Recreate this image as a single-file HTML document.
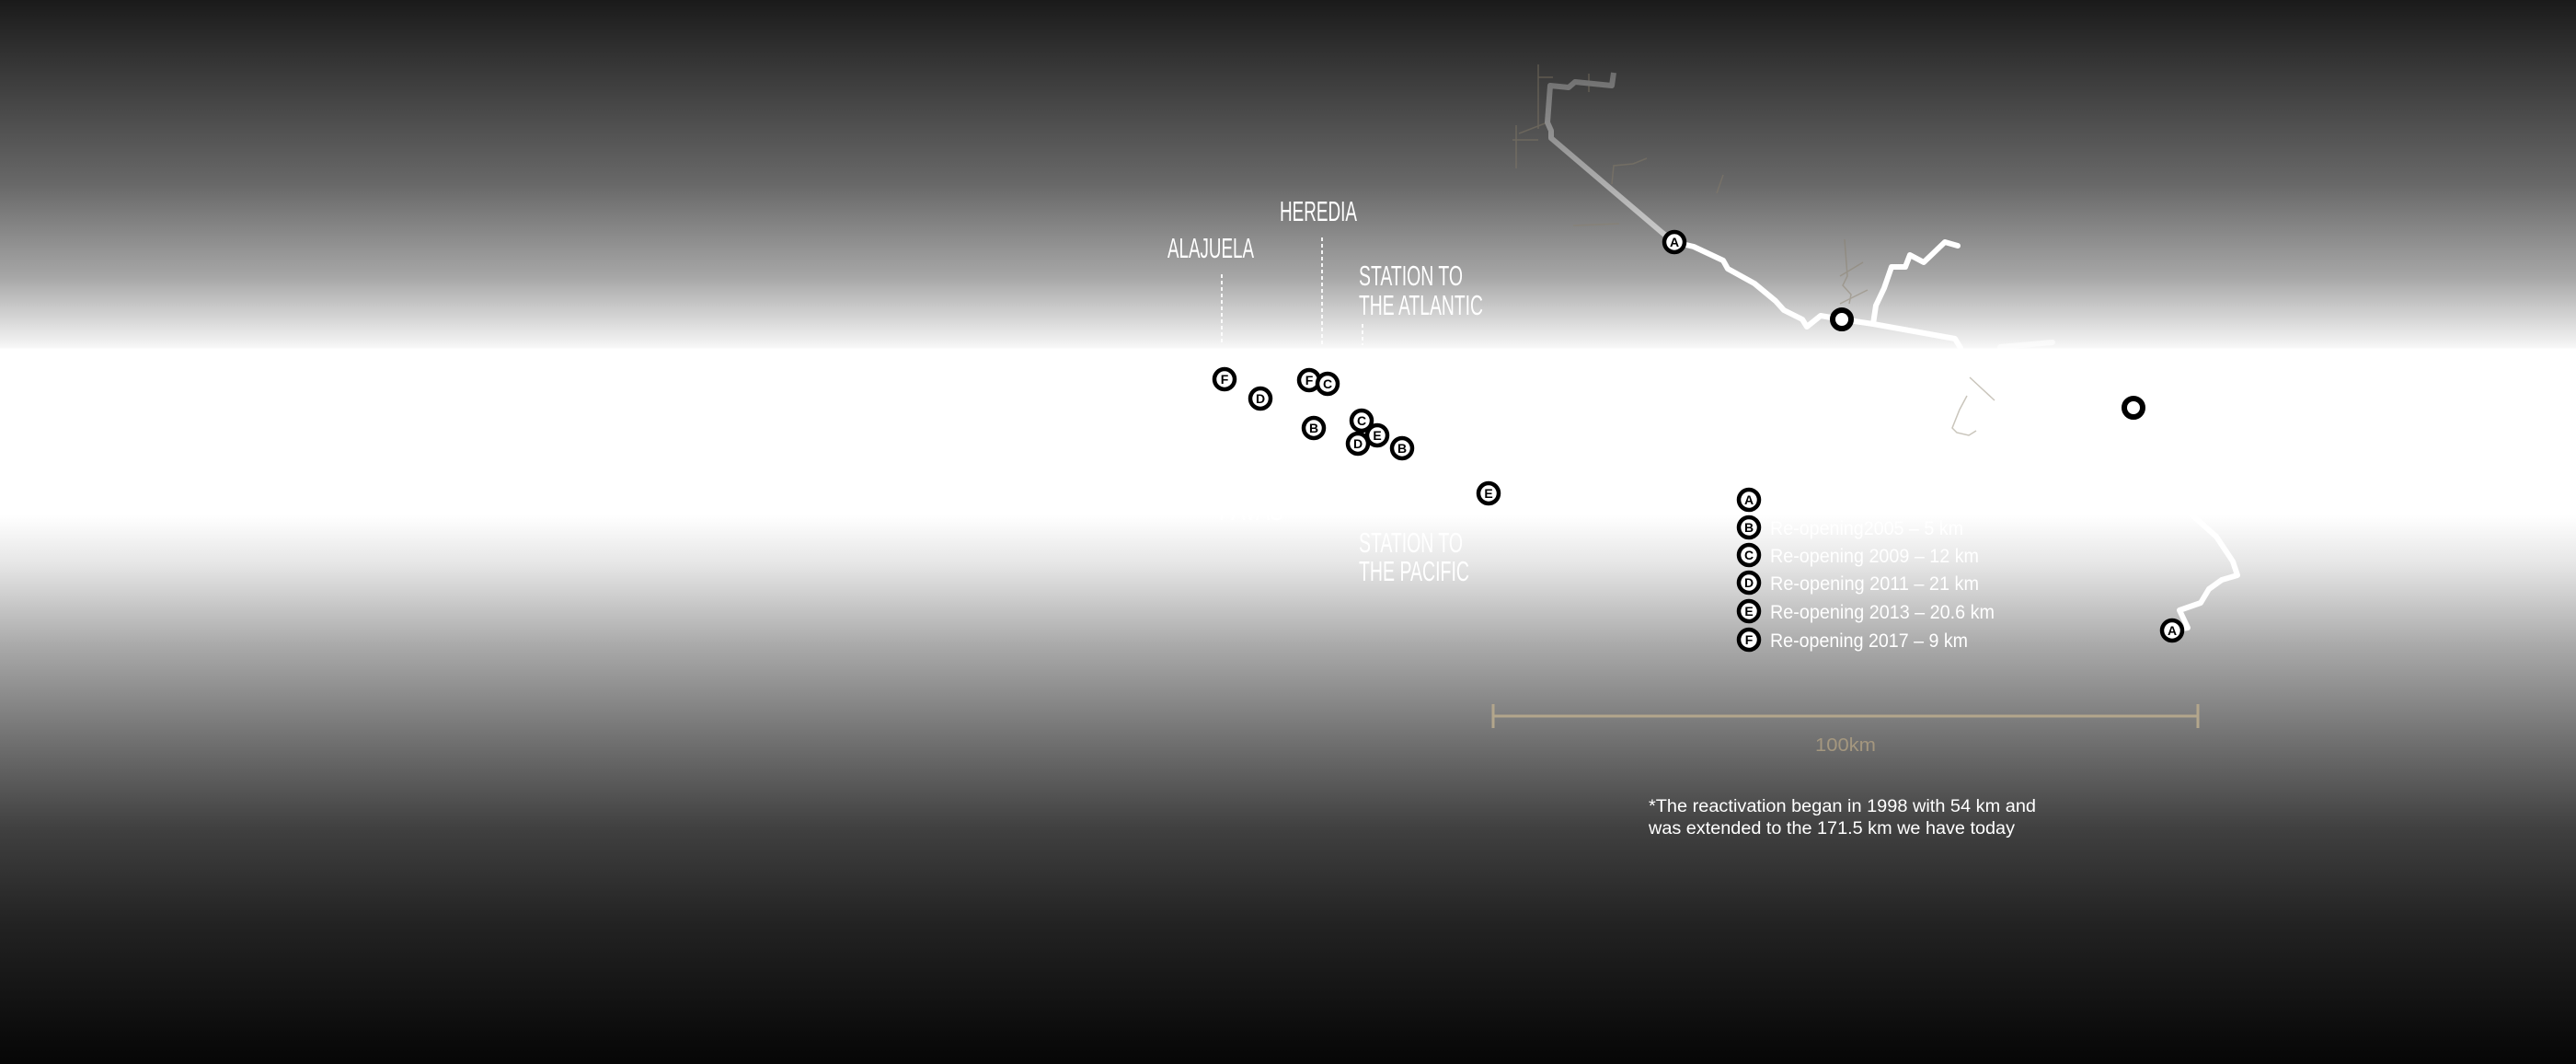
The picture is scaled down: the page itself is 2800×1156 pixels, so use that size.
<!DOCTYPE html>
<html><head><meta charset="utf-8"><style>
html,body{margin:0;padding:0;width:2800px;height:1156px;overflow:hidden;background:#000}
svg{display:block}
</style></head><body>
<svg width="2800" height="1156" viewBox="0 0 2800 1156" xmlns="http://www.w3.org/2000/svg">
<defs>
<linearGradient id="bg" x1="0" y1="0" x2="0" y2="1156" gradientUnits="userSpaceOnUse">
<stop offset="0" stop-color="#1a1a1a"/>
<stop offset="0.043" stop-color="#2e2e2e"/>
<stop offset="0.173" stop-color="#686868"/>
<stop offset="0.26" stop-color="#a6a6a6"/>
<stop offset="0.303" stop-color="#dadada"/>
<stop offset="0.326" stop-color="#f6f6f6"/>
<stop offset="0.328" stop-color="#ffffff"/>
<stop offset="0.484" stop-color="#ffffff"/>
<stop offset="0.53" stop-color="#e6e6e6"/>
<stop offset="0.606" stop-color="#aaaaaa"/>
<stop offset="0.692" stop-color="#737373"/>
<stop offset="0.779" stop-color="#404040"/>
<stop offset="0.87" stop-color="#222222"/>
<stop offset="1" stop-color="#060606"/>
</linearGradient>
<linearGradient id="rt" x1="0" y1="80" x2="0" y2="265" gradientUnits="userSpaceOnUse">
<stop offset="0" stop-color="#6e6e6e"/>
<stop offset="1" stop-color="#cfcfcf"/>
</linearGradient>
</defs>
<rect width="2800" height="1156" fill="url(#bg)"/>

<g stroke="#8a7f6a" stroke-width="1.5" fill="none" opacity="0.45">
<path d="M1672 70 L1672 140"/><path d="M1672 84 L1688 84"/>
<path d="M1727 80 L1727 100"/>
<path d="M1648 136 L1648 183"/><path d="M1644 152 L1672 152"/><path d="M1651 145 L1682 133"/>
<path d="M1752 200 L1754 180 L1775 178 L1790 172"/>
<path d="M1710 245 L1760 243"/>
<path d="M1866 210 L1873 190"/>
<path d="M2005 260 L2008 300 L2003 310 L2012 320 L2010 330"/>
<path d="M2000 300 L2025 285"/><path d="M2000 330 L2030 315"/>
<path d="M2141 410 L2168 435"/><path d="M2138 430 L2130 445 L2122 465 L2127 470 L2140 473 L2148 468"/>
</g>

<path d="M1754 79 L1752 93 L1712 89 L1705 95 L1685 93 L1682 133 L1686 142 L1686 150 L1807 253 L1820 263" stroke="url(#rt)" stroke-width="6" fill="none" stroke-linejoin="round"/>
<g stroke="#ffffff" stroke-width="6" fill="none" stroke-linejoin="round" stroke-linecap="round">
<path d="M1820 263 L1841 268 L1873 283 L1878 292 L1907 308 L1930 327 L1939 337 L1959 347 L1964 355 L1979 343 L2002 347 L2036 352 L2125 368 L2131 378"/>
<path d="M2036 352 L2039 332 L2048 313 L2056 290 L2071 290 L2076 277 L2091 285 L2114 263 L2128 267"/>
<path d="M2174 377 L2231 372" opacity="0.6"/>
<path d="M2361 685 L2378 682 L2369 663 L2392 655 L2401 640 L2415 630 L2432 625 L2427 610 L2409 583 L2381 558"/>
</g>

<circle cx="2002" cy="347" r="10" fill="#fff" stroke="#000" stroke-width="6"/>
<circle cx="2319" cy="443" r="10" fill="#fff" stroke="#000" stroke-width="6"/>

<g stroke="#ffffff" stroke-width="2" stroke-dasharray="4 3" opacity="0.9">
<line x1="1328" y1="298" x2="1328" y2="375"/>
<line x1="1437" y1="258" x2="1437" y2="375"/>
<line x1="1481" y1="352" x2="1481" y2="375"/>
</g>

<g font-family="Liberation Sans, sans-serif" fill="#ffffff" font-size="31">
<text x="1391" y="240" textLength="84" lengthAdjust="spacingAndGlyphs">HEREDIA</text>
<text x="1269" y="280" textLength="94" lengthAdjust="spacingAndGlyphs">ALAJUELA</text>
<text x="1477" y="310" textLength="113" lengthAdjust="spacingAndGlyphs">STATION TO</text>
<text x="1477" y="342" textLength="135" lengthAdjust="spacingAndGlyphs">THE ATLANTIC</text>
<text x="1325" y="565" textLength="70" lengthAdjust="spacingAndGlyphs">PAVAS</text>
<text x="1477" y="600" textLength="113" lengthAdjust="spacingAndGlyphs">STATION TO</text>
<text x="1477" y="631" textLength="120" lengthAdjust="spacingAndGlyphs">THE PACIFIC</text>
</g>

<g font-family="Liberation Sans, sans-serif" font-weight="bold" font-size="14" text-anchor="middle">
<g><circle cx="1820" cy="263" r="11" fill="#fff" stroke="#000" stroke-width="4.5"/><text x="1820" y="268">A</text></g>
<g><circle cx="2361" cy="685" r="11" fill="#fff" stroke="#000" stroke-width="4.5"/><text x="2361" y="690">A</text></g>
<g><circle cx="1331" cy="412" r="11" fill="#fff" stroke="#000" stroke-width="4.5"/><text x="1331" y="417">F</text></g>
<g><circle cx="1370" cy="433" r="11" fill="#fff" stroke="#000" stroke-width="4.5"/><text x="1370" y="438">D</text></g>
<g><circle cx="1423" cy="413" r="11" fill="#fff" stroke="#000" stroke-width="4.5"/><text x="1423" y="418">F</text></g>
<g><circle cx="1443" cy="417" r="11" fill="#fff" stroke="#000" stroke-width="4.5"/><text x="1443" y="422">C</text></g>
<g><circle cx="1428" cy="465" r="11" fill="#fff" stroke="#000" stroke-width="4.5"/><text x="1428" y="470">B</text></g>
<g><circle cx="1480" cy="457" r="11" fill="#fff" stroke="#000" stroke-width="4.5"/><text x="1480" y="462">C</text></g>
<g><circle cx="1497" cy="473" r="11" fill="#fff" stroke="#000" stroke-width="4.5"/><text x="1497" y="478">E</text></g>
<g><circle cx="1476" cy="482" r="11" fill="#fff" stroke="#000" stroke-width="4.5"/><text x="1476" y="487">D</text></g>
<g><circle cx="1524" cy="487" r="11" fill="#fff" stroke="#000" stroke-width="4.5"/><text x="1524" y="492">B</text></g>
<g><circle cx="1618" cy="536" r="11" fill="#fff" stroke="#000" stroke-width="4.5"/><text x="1618" y="541">E</text></g>
<g><circle cx="1901" cy="543" r="11" fill="#fff" stroke="#000" stroke-width="4.5"/><text x="1901" y="548">A</text></g>
<g><circle cx="1901" cy="573" r="11" fill="#fff" stroke="#000" stroke-width="4.5"/><text x="1901" y="578">B</text></g>
<g><circle cx="1901" cy="603" r="11" fill="#fff" stroke="#000" stroke-width="4.5"/><text x="1901" y="608">C</text></g>
<g><circle cx="1901" cy="633" r="11" fill="#fff" stroke="#000" stroke-width="4.5"/><text x="1901" y="638">D</text></g>
<g><circle cx="1901" cy="664" r="11" fill="#fff" stroke="#000" stroke-width="4.5"/><text x="1901" y="669">E</text></g>
<g><circle cx="1901" cy="695" r="11" fill="#fff" stroke="#000" stroke-width="4.5"/><text x="1901" y="700">F</text></g>
</g>

<g font-family="Liberation Sans, sans-serif" fill="#ffffff" font-size="21">
<text x="1924" y="551" textLength="255" lengthAdjust="spacingAndGlyphs">Re-opening 1998 – 171 km *</text>
<text x="1924" y="581" textLength="210" lengthAdjust="spacingAndGlyphs">Re-opening2005 – 5 km</text>
<text x="1924" y="611" textLength="227" lengthAdjust="spacingAndGlyphs">Re-opening 2009 – 12 km</text>
<text x="1924" y="641" textLength="227" lengthAdjust="spacingAndGlyphs">Re-opening 2011 – 21 km</text>
<text x="1924" y="672" textLength="244" lengthAdjust="spacingAndGlyphs">Re-opening 2013 – 20.6 km</text>
<text x="1924" y="703" textLength="215" lengthAdjust="spacingAndGlyphs">Re-opening 2017 – 9 km</text>
</g>

<g stroke="#b3a68c" stroke-width="3">
<line x1="1623" y1="778" x2="2389" y2="778"/>
<line x1="1623" y1="765" x2="1623" y2="791"/>
<line x1="2389" y1="765" x2="2389" y2="791"/>
</g>
<text x="1973" y="816" font-family="Liberation Sans, sans-serif" font-size="20" fill="#a4977f" textLength="66" lengthAdjust="spacingAndGlyphs">100km</text>

<g font-family="Liberation Sans, sans-serif" fill="#ffffff" font-size="19">
<text x="1792" y="882" textLength="421" lengthAdjust="spacingAndGlyphs">*The reactivation began in 1998 with 54 km and</text>
<text x="1792" y="906" textLength="398" lengthAdjust="spacingAndGlyphs">was extended to the 171.5 km we have today</text>
</g>
</svg>
</body></html>
